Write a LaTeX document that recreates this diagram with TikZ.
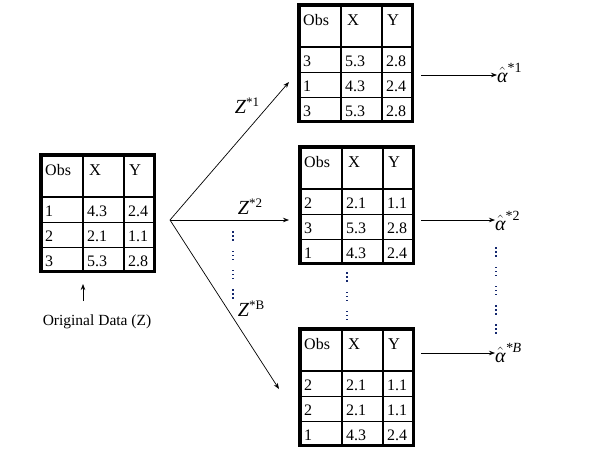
\documentclass[tikz,border=0pt]{standalone}
\usepackage{fontspec}
\setmainfont{Liberation Serif}
\usetikzlibrary{arrows.meta}
\definecolor{dotblue}{RGB}{20,40,110}
\tikzset{
  tblframe/.style={draw, line width=3.5pt, rectangle, minimum width=113.5pt, minimum height=116.5pt, anchor=north west, inner sep=0pt, outer sep=0pt},
  tblgrid/.style={line width=1.1pt},
  cell/.style={anchor=base west, inner sep=0pt, font=\fontsize{16}{18}\selectfont},
  hcell/.style={cell, font=\fontsize{16.5}{18}\selectfont},
  arr/.style={-{Stealth[length=6pt,width=4.5pt]}, line width=0.7pt},
  zlabel/.style={inner sep=0pt, font=\fontsize{20}{22}\selectfont},
  alabel/.style={anchor=west, inner sep=0pt, font=\fontsize{20}{22}\selectfont},
  dotsty/.style={fill=dotblue, draw=none},
}
\newcommand\bstable[4]{%
  \begin{scope}[shift={(#2,#3)}]
    \draw[tblgrid] (44,0) -- (44,120) (85,0) -- (85,120)
      (0,44) -- (117,44) (0,69.33) -- (117,69.33) (0,94.67) -- (117,94.67);
    \node[tblframe] (#1) at (1.75,1.75) {};
    \node[cell] (#1-h1) at (6,22) {Obs};
    \node[hcell] (#1-h2) at (50,22) {X};
    \node[hcell] (#1-h3) at (90,22) {Y};
    \foreach \a/\b/\c [count=\i] in {#4} {
      \node[cell] (#1-\i-1) at (6,{44+25.33*(\i-1)+19}) {\a};
      \node[cell] (#1-\i-2) at (48,{44+25.33*(\i-1)+19}) {\b};
      \node[cell] (#1-\i-3) at (89,{44+25.33*(\i-1)+19}) {\c};
    }
  \end{scope}}
\newcommand\dotgroup[3]{% x, y, number of groups
  \foreach \g in {1,...,#3} {
    \foreach \d in {0,4,8} {
      \fill[dotsty] ({#1-0.8},{#2+(\g-1)*19.3+\d-0.8}) rectangle ++(1.6,1.6);
    }
  }}
\newcommand\Zsup[1]{\textit{Z}\raisebox{7pt}{\fontsize{13}{13}\selectfont #1}}
\newcommand\Asup[1]{$\hat{\hbox{\itshape α}}^{\hbox{\fontsize{14}{14}\selectfont #1}}$}
\begin{document}
\begin{tikzpicture}[x=1pt,y=-1pt]
\useasboundingbox (0,0) rectangle (594,456);
% tables
\bstable{orig}{39}{153}{1/4.3/2.4, 2/2.1/1.1, 3/5.3/2.8}
\bstable{tA}{297}{3}{3/5.3/2.8, 1/4.3/2.4, 3/5.3/2.8}
\bstable{tB}{298}{145}{2/2.1/1.1, 3/5.3/2.8, 1/4.3/2.4}
\bstable{tC}{298}{327}{2/2.1/1.1, 2/2.1/1.1, 1/4.3/2.4}
% original data label
\node[inner sep=0pt, font=\fontsize{15.5}{17}\selectfont] (origlab) at (97,322) {Original Data (Z)};
\coordinate (origtail) at (83,301);
\coordinate (origtip) at (83,284);
\draw[arr] (origtail) -- (origtip);
% fan of arrows
\coordinate (fan) at (170,220);
\coordinate (endA) at (289,82);
\coordinate (endB) at (289,220);
\coordinate (endC) at (279,389);
\draw[arr] (fan) -- (endA);
\draw[arr] (fan) -- (endB);
\draw[arr] (fan) -- (endC);
\node[zlabel] (z1) at (247,106) {\Zsup{*1}};
\node[zlabel] (z2) at (250,207) {\Zsup{*2}};
\node[zlabel] (zB) at (251,309) {\Zsup{*B}};
% alpha labels
\node[alabel] (a1) at (497,73) {\Asup{*1}};
\node[alabel] (a2) at (495,221) {\Asup{*2}};
\node[alabel] (aB) at (495,353) {\Asup{\itshape *B}};
\coordinate (sA) at (421,75);
\coordinate (sB) at (421,220);
\coordinate (sC) at (421,353);
\draw[arr] (sA) -- (sA -| a1.west);
\draw[arr] (sB) -- (sB -| a2.west);
\draw[arr] (sC) -- (sC -| aB.west);
% vertical ellipses
\dotgroup{233}{232}{4}
\dotgroup{347}{273}{3}
\dotgroup{496}{248}{5}
\end{tikzpicture}
\end{document}
